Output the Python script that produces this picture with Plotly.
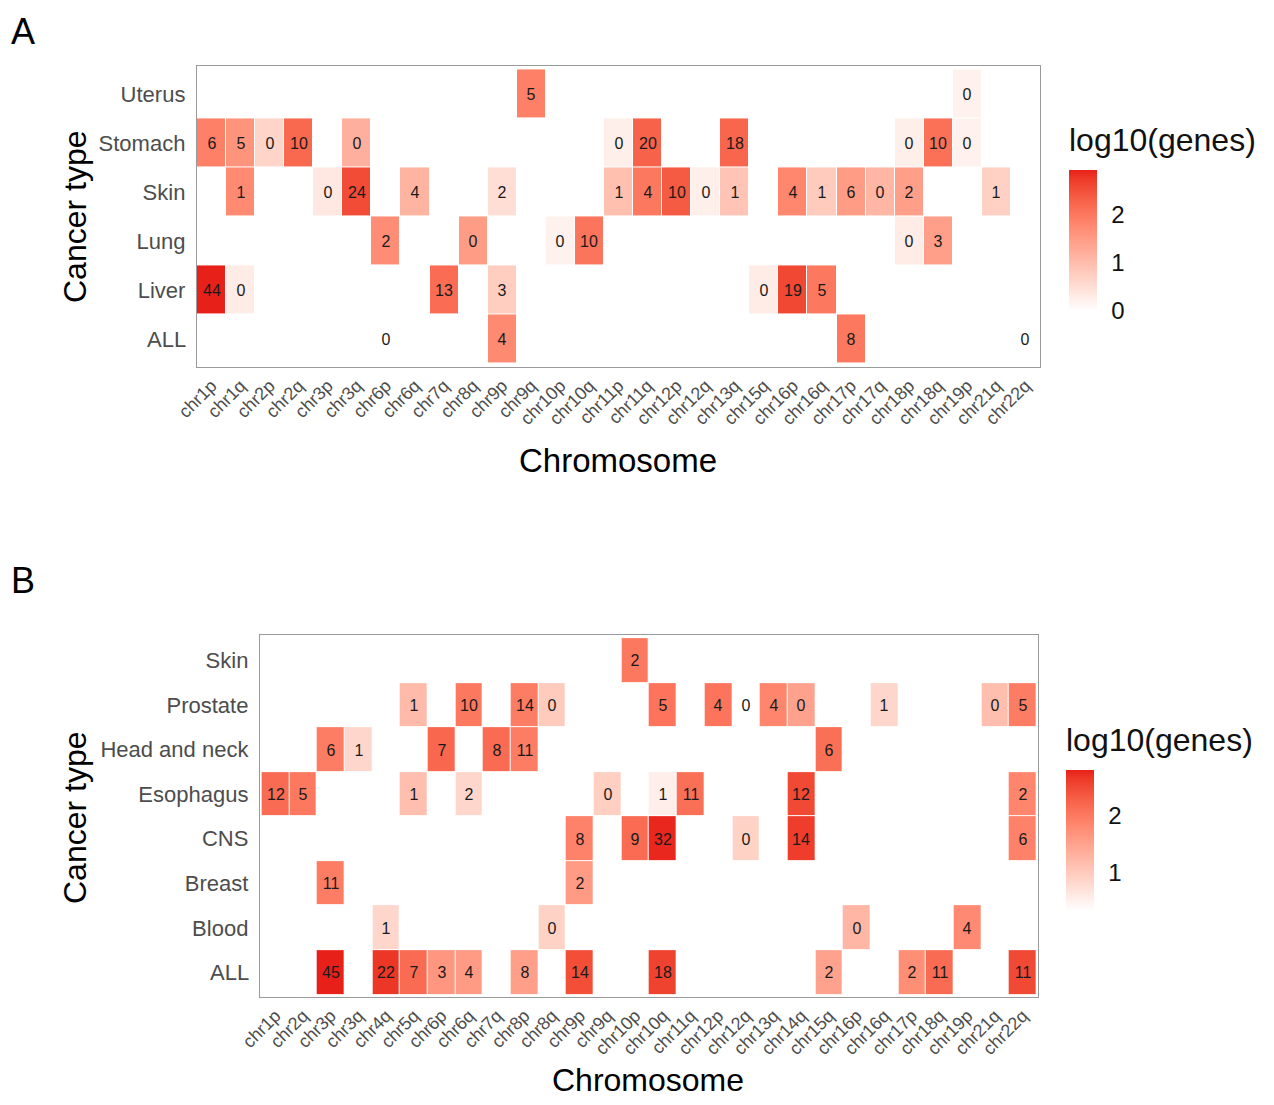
import plotly.graph_objects as go

# ---------------- Panel A data ----------------
a_rows = ["ALL", "Liver", "Lung", "Skin", "Stomach", "Uterus"]
a_cols = ["chr1p", "chr1q", "chr2p", "chr2q", "chr3p", "chr3q", "chr6p", "chr6q", "chr7q",
          "chr8q", "chr9p", "chr9q", "chr10p", "chr10q", "chr11p", "chr11q", "chr12p", "chr12q",
          "chr13q", "chr15q", "chr16p", "chr16q", "chr17p", "chr17q", "chr18p", "chr18q",
          "chr19p", "chr21q", "chr22q"]
a_cancer = (["Uterus"] * 2 + ["Stomach"] * 11 + ["Skin"] * 16 + ["Lung"] * 6
            + ["Liver"] * 7 + ["ALL"] * 4)
a_chrom = ["chr9q", "chr19p",
           "chr1p", "chr1q", "chr2p", "chr2q", "chr3q", "chr11p", "chr11q", "chr13q", "chr18p", "chr18q", "chr19p",
           "chr1q", "chr3p", "chr3q", "chr6q", "chr9p", "chr11p", "chr11q", "chr12p", "chr12q", "chr13q",
           "chr16p", "chr16q", "chr17p", "chr17q", "chr18p", "chr21q",
           "chr6p", "chr8q", "chr10p", "chr10q", "chr18p", "chr18q",
           "chr1p", "chr1q", "chr7q", "chr9p", "chr15q", "chr16p", "chr16q",
           "chr6p", "chr9p", "chr17p", "chr22q"]
a_log10 = [1.9, 0.2,
           1.9, 1.6, 0.65, 2.2, 1.2, 0.25, 2.3, 2.25, 0.25, 2.1, 0.2,
           1.75, 0.35, 2.55, 1.15, 0.5, 0.95, 2.0, 2.4, 0.25, 0.9,
           1.8, 0.8, 1.5, 1.1, 1.45, 0.7,
           1.7, 1.5, 0.2, 2.05, 0.3, 1.45,
           2.94, 0.3, 2.15, 0.75, 0.3, 2.6, 2.0,
           0.0, 1.75, 2.0, 0.0]
a_label = [5, 0,
           6, 5, 0, 10, 0, 0, 20, 18, 0, 10, 0,
           1, 0, 24, 4, 2, 1, 4, 10, 0, 1,
           4, 1, 6, 0, 2, 1,
           2, 0, 0, 10, 0, 3,
           44, 0, 13, 3, 0, 19, 5,
           0, 4, 8, 0]

# ---------------- Panel B data ----------------
b_rows = ["ALL", "Blood", "Breast", "CNS", "Esophagus", "Head and neck", "Prostate", "Skin"]
b_cols = ["chr1p", "chr2q", "chr3p", "chr3q", "chr4q", "chr5q", "chr6p", "chr6q", "chr7q",
          "chr8p", "chr8q", "chr9p", "chr9q", "chr10p", "chr10q", "chr11q", "chr12p", "chr12q",
          "chr13q", "chr14q", "chr15q", "chr16p", "chr16q", "chr17p", "chr18q", "chr19p",
          "chr21q", "chr22q"]
b_cancer = (["Skin"] * 1 + ["Prostate"] * 12 + ["Head and neck"] * 6 + ["Esophagus"] * 9
            + ["CNS"] * 6 + ["Breast"] * 2 + ["Blood"] * 4 + ["ALL"] * 12)
b_chrom = ["chr10p",
           "chr5q", "chr6q", "chr8p", "chr8q", "chr10q", "chr12p", "chr12q", "chr13q", "chr14q", "chr16q", "chr21q", "chr22q",
           "chr3p", "chr3q", "chr6p", "chr7q", "chr8p", "chr15q",
           "chr1p", "chr2q", "chr5q", "chr6q", "chr9q", "chr10q", "chr11q", "chr14q", "chr22q",
           "chr9p", "chr10p", "chr10q", "chr12q", "chr14q", "chr22q",
           "chr3p", "chr9p",
           "chr4q", "chr8q", "chr16p", "chr19p",
           "chr3p", "chr4q", "chr5q", "chr6p", "chr6q", "chr8p", "chr9p", "chr10q", "chr15q", "chr17p", "chr18q", "chr22q"]
b_log10 = [2.0,
           1.2, 2.0, 1.95, 1.0, 2.05, 2.05, 0.33, 1.85, 1.5, 0.85, 1.15, 1.95,
           1.95, 0.85, 2.2, 2.15, 1.95, 2.1,
           2.15, 2.0, 1.15, 0.85, 0.95, 0.55, 2.1, 2.5, 1.85,
           1.9, 2.15, 2.75, 0.9, 2.6, 1.9,
           1.95, 1.6,
           0.85, 0.9, 1.25, 1.8,
           2.79, 2.65, 2.15, 1.65, 1.6, 1.55, 2.45, 2.55, 1.5, 1.75, 2.15, 2.5]
b_label = [2,
           1, 10, 14, 0, 5, 4, 0, 4, 0, 1, 0, 5,
           6, 1, 7, 8, 11, 6,
           12, 5, 1, 2, 0, 1, 11, 12, 2,
           8, 9, 32, 0, 14, 6,
           11, 2,
           1, 0, 0, 4,
           45, 22, 7, 3, 4, 8, 14, 18, 2, 2, 11, 11]


# ---------------- colour scale (Lab interpolation white -> red, like ggplot) ----------------
def _srgb_to_lin(c):
    c = c / 255.0
    return c / 12.92 if c <= 0.04045 else ((c + 0.055) / 1.055) ** 2.4


def _lin_to_srgb(c):
    c = max(0.0, min(1.0, c))
    v = 12.92 * c if c <= 0.0031308 else 1.055 * c ** (1 / 2.4) - 0.055
    return int(round(v * 255))


WHITE = (0.95047, 1.0, 1.08883)


def _rgb_to_lab(rgb):
    r, g, b = [_srgb_to_lin(v) for v in rgb]
    x = 0.4124 * r + 0.3576 * g + 0.1805 * b
    y = 0.2126 * r + 0.7152 * g + 0.0722 * b
    z = 0.0193 * r + 0.1192 * g + 0.9505 * b

    def f(t):
        return t ** (1 / 3) if t > 0.008856 else 7.787 * t + 16 / 116
    fx, fy, fz = f(x / WHITE[0]), f(y / WHITE[1]), f(z / WHITE[2])
    return (116 * fy - 16, 500 * (fx - fy), 200 * (fy - fz))


def _lab_to_rgb(lab):
    L, a, b = lab
    fy = (L + 16) / 116
    fx = fy + a / 500
    fz = fy - b / 200

    def finv(t):
        return t ** 3 if t ** 3 > 0.008856 else (t - 16 / 116) / 7.787
    x, y, z = finv(fx) * WHITE[0], finv(fy) * WHITE[1], finv(fz) * WHITE[2]
    r = 3.2406 * x - 1.5372 * y - 0.4986 * z
    g = -0.9689 * x + 1.8758 * y + 0.0415 * z
    bb = 0.0557 * x - 0.2040 * y + 1.0570 * z
    return (_lin_to_srgb(r), _lin_to_srgb(g), _lin_to_srgb(bb))


low_lab = _rgb_to_lab((255, 255, 255))
high_lab = _rgb_to_lab((232, 32, 26))
colorscale = []
N = 20
for i in range(N + 1):
    t = i / N
    lab = tuple(low_lab[k] + (high_lab[k] - low_lab[k]) * t for k in range(3))
    r, g, b = _lab_to_rgb(lab)
    colorscale.append([t, f"rgb({r},{g},{b})"])


def build(rows, cols, cancer, chrom, vals, labels):
    z = [[None] * len(cols) for _ in rows]
    txt = [[""] * len(cols) for _ in rows]
    for c, ch, v, lb in zip(cancer, chrom, vals, labels):
        i, j = rows.index(c), cols.index(ch)
        z[i][j] = v
        txt[i][j] = str(lb)
    return z, txt


za, ta = build(a_rows, a_cols, a_cancer, a_chrom, a_log10, a_label)
zb, tb = build(b_rows, b_cols, b_cancer, b_chrom, b_log10, b_label)

# the page body has an 8px margin: the figure is sized so the page fills the window exactly
OFF = 8
W, H = 1274 - 2 * OFF, 1105 - 2 * OFF
FONT = "Liberation Sans, Arial, sans-serif"


def px_x(p):
    return (p - OFF) / W


def px_y(p):
    return 1 - (p - OFF) / H


def cbar(tvals, bottom_px, top_px, left_px, right_px):
    return dict(
        title=dict(text=""),
        tickvals=tvals, ticktext=[str(v) for v in tvals],
        tickfont=dict(family=FONT, size=24, color="#111"),
        ticks="outside", ticklen=10, tickcolor="rgba(0,0,0,0)",
        lenmode="pixels", len=bottom_px - top_px,
        thicknessmode="pixels", thickness=right_px - left_px,
        x=px_x(left_px), xanchor="left", y=px_y(bottom_px), yanchor="bottom",
        outlinewidth=0, ypad=0, xpad=0,
    )


fig = go.Figure()

fig.add_trace(go.Heatmap(
    z=za, x=a_cols, y=a_rows, text=ta, texttemplate="%{text}",
    textfont=dict(family=FONT, size=16, color="#1a1a1a"),
    colorscale=colorscale, zmin=min(a_log10), zmax=max(a_log10),
    xgap=1, ygap=1, hoverongaps=False,
    xaxis="x", yaxis="y",
    colorbar=cbar([0, 1, 2], 311, 170, 1069, 1097),
))

fig.add_trace(go.Heatmap(
    z=zb, x=b_cols, y=b_rows, text=tb, texttemplate="%{text}",
    textfont=dict(family=FONT, size=16, color="#1a1a1a"),
    colorscale=colorscale, zmin=min(b_log10), zmax=max(b_log10),
    xgap=1, ygap=1, hoverongaps=False,
    xaxis="x2", yaxis="y2",
    colorbar=cbar([1, 2], 911, 770, 1066, 1094),
))

axis_common = dict(showgrid=False, zeroline=False, showline=True, linecolor="#9a9a9a",
                   linewidth=1.2, mirror=True, ticks="", fixedrange=True, automargin=False)
xtick = dict(family=FONT, size=18, color="#4d4d4d")
ytick = dict(family=FONT, size=22, color="#4d4d4d")

fig.update_layout(
    width=W, height=H,
    margin=dict(l=0, r=0, t=0, b=0, autoexpand=False),
    paper_bgcolor="white", plot_bgcolor="white",
    xaxis=dict(domain=[px_x(197), px_x(1040)], anchor="y", type="category",
               categoryorder="array", categoryarray=a_cols, range=[-0.5, len(a_cols) - 0.5],
               tickangle=-45, tickfont=xtick, **axis_common),
    yaxis=dict(domain=[px_y(367), px_y(66)], anchor="x", type="category",
               categoryorder="array", categoryarray=a_rows, range=[-0.57, len(a_rows) - 0.43],
               tickfont=ytick, ticksuffix=" ", **axis_common),
    xaxis2=dict(domain=[px_x(260), px_x(1038)], anchor="y2", type="category",
                categoryorder="array", categoryarray=b_cols, range=[-0.56, len(b_cols) - 0.45],
                tickangle=-45, tickfont=xtick, **axis_common),
    yaxis2=dict(domain=[px_y(997), px_y(635)], anchor="x2", type="category",
                categoryorder="array", categoryarray=b_rows, range=[-0.55, len(b_rows) - 0.43],
                tickfont=ytick, ticksuffix=" ", **axis_common),
    showlegend=False,
)

ann = [
    dict(text="A", x=px_x(9), y=px_y(9), xanchor="left", yanchor="top", font=dict(size=36, color="black")),
    dict(text="B", x=px_x(9), y=px_y(580), xanchor="left", yanchor="middle", font=dict(size=36, color="black")),
    dict(text="Cancer type", x=px_x(75), y=px_y(217), textangle=-90, xanchor="center", yanchor="middle",
         font=dict(size=32, color="black")),
    dict(text="Cancer type", x=px_x(75), y=px_y(818), textangle=-90, xanchor="center", yanchor="middle",
         font=dict(size=32, color="black")),
    dict(text="Chromosome", x=px_x(618), y=px_y(460), xanchor="center", yanchor="middle",
         font=dict(size=33, color="black")),
    dict(text="Chromosome", x=px_x(648), y=px_y(1080), xanchor="center", yanchor="middle",
         font=dict(size=32, color="black")),
    dict(text="log10(genes)", x=px_x(1067), y=px_y(140), xanchor="left", yanchor="middle",
         font=dict(size=32, color="#111")),
    dict(text="log10(genes)", x=px_x(1064), y=px_y(740), xanchor="left", yanchor="middle",
         font=dict(size=32, color="#111")),
]
for a in ann:
    a.update(xref="paper", yref="paper", showarrow=False)
    a["font"]["family"] = FONT
fig.update_layout(annotations=ann)

fig.write_html("out.html")
